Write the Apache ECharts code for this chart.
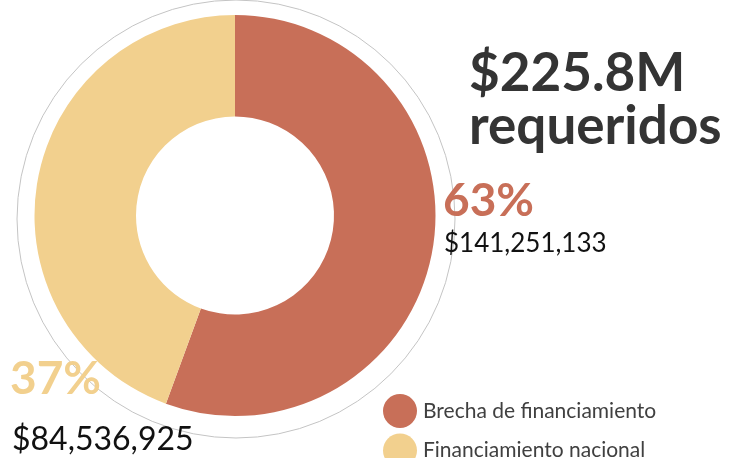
<!DOCTYPE html>
<html>
<head>
<meta charset="utf-8">
<script src="https://cdn.jsdelivr.net/npm/echarts@6/dist/echarts.min.js"></script>
<style>
  html, body { margin: 0; padding: 0; background: #fff; }
  #chart { width: 743px; height: 458px; }
</style>
</head>
<body>
<div id="chart"></div>
<script>
// ---- data ----
const categories = ['Brecha de financiamiento', 'Financiamiento nacional'];
const amounts = [141251133, 84536925];           // USD, as labelled
const arcShares = [55.6, 44.4];                   // share of the ring as drawn in the picture
const colors = ['#C86F58', '#F2D08E'];

const total = amounts.reduce((a, b) => a + b, 0);
const pct = amounts.map(v => Math.round(v / total * 100) + '%');
const money = v => '$' + v.toLocaleString('en-US');
const totalLabel = '$' + (total / 1e6).toFixed(1) + 'M';

const chart = echarts.init(document.getElementById('chart'), null, { renderer: 'canvas' });
const font = 'Lato, "Open Sans", sans-serif';

const legendBase = {
  orient: 'vertical',
  left: 378,
  icon: 'circle',
  itemWidth: 34,
  itemHeight: 34,
  textStyle: { fontFamily: font, fontSize: 21, color: '#404040', padding: [0, 0, 0, 1] },
  selectedMode: false
};

chart.setOption({
  animation: false,
  legend: [
    Object.assign({}, legendBase, { top: 389, data: [categories[0]] }),
    Object.assign({}, legendBase, { top: 428.5, data: [categories[1]] })
  ],
  graphic: [
    { type: 'circle', shape: { cx: 236, cy: 219, r: 219 }, style: { fill: 'none', stroke: '#c4c4c4', lineWidth: 1 }, z: -1, silent: true },
    { type: 'text', left: 469, top: 47, style: { text: totalLabel + '\nrequeridos', font: 'bold 53px ' + font, fill: '#343434', lineHeight: 53 } },
    { type: 'text', left: 443, top: 178, style: { text: pct[0], font: 'bold 46px ' + font, fill: colors[0] } },
    { type: 'text', left: 444, top: 231, style: { text: money(amounts[0]), font: '26px ' + font, fill: '#111' } },
    { type: 'text', left: 10, top: 356, style: { text: pct[1], font: 'bold 46px ' + font, fill: colors[1] } },
    { type: 'text', left: 12, top: 424, style: { text: money(amounts[1]), font: '32px ' + font, fill: '#111' } }
  ],
  series: [{
    type: 'pie',
    center: [235, 215.5],
    radius: [99, 200.5],
    startAngle: 90,
    clockwise: true,
    silent: true,
    label: { show: false },
    labelLine: { show: false },
    emphasis: { disabled: true },
    data: categories.map((c, i) => ({ name: c, value: arcShares[i], itemStyle: { color: colors[i] } }))
  }]
});
</script>
</body>
</html>
